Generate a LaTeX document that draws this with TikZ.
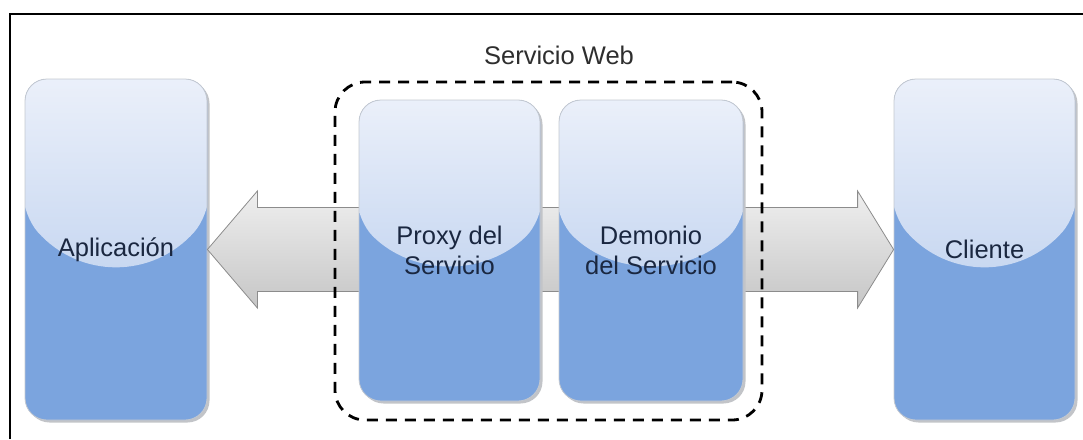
\documentclass[tikz,border=0pt]{standalone}
\usepackage{fontspec}
\setmainfont{Liberation Sans}
\usetikzlibrary{calc}

\definecolor{glosstop}{HTML}{EBF0FA}
\definecolor{glossbot}{HTML}{ADC5EA}
\definecolor{boxbody}{HTML}{7BA4DE}
\definecolor{boxedge}{HTML}{C3C8D0}
\definecolor{boxshadow}{HTML}{C2C4C8}
\definecolor{ink}{HTML}{1A2740}
\definecolor{titleink}{HTML}{2E2E2E}
\definecolor{arrowtop}{HTML}{EFEFEF}
\definecolor{arrowbot}{HTML}{C6C6C6}
\definecolor{arrowedge}{HTML}{8C8C8C}

\begin{document}
\begin{tikzpicture}[x=1pt,y=-1pt,
  labelfont/.style={font=\fontsize{25.5}{30}\selectfont},
  glossbox/.style={rectangle, rounded corners=22pt, inner sep=0pt,
    draw=boxedge, line width=0.8pt, fill=boxbody, text=ink, align=center, labelfont,
    preaction={fill=boxshadow, draw=none, transform canvas={xshift=2.5pt,yshift=-2.5pt}},
    path picture={
      \fill[top color=glosstop, bottom color=glossbot]
        let \p1=(path picture bounding box.north west),
            \p2=(path picture bounding box.south east) in
        ({\x1-2pt},{\y1+2pt}) -- ({\x2+2pt},{\y1+2pt}) -- ({\x2+2pt},{\y1-0.4*(\y1-\y2)})
        .. controls ({\x2-0.3*(\x2-\x1)},{\y1-0.587*(\y1-\y2)})
               and ({\x1+0.3*(\x2-\x1)},{\y1-0.587*(\y1-\y2)})
        .. ({\x1-2pt},{\y1-0.4*(\y1-\y2)}) -- cycle;
    }},
  bigarrow/.style={top color=arrowtop, bottom color=arrowbot, draw=arrowedge, line width=0.8pt, line join=miter},
  groupline/.style={draw=black, line width=2.8pt, dash pattern=on 11pt off 8pt, rounded corners=30pt},
  frameline/.style={draw=black, line width=1.6pt}
]
\useasboundingbox (0,0) rectangle (1083,439);

% outer frame
\draw[frameline] (10,439) -- (10,14) -- (1083,14);

% end points of the exchange
\node[glossbox, minimum width=182pt, minimum height=341pt] (app) at (116,249.5) {Aplicación};
\node[glossbox, minimum width=181pt, minimum height=341pt] (cli) at (984.5,249.5) {Cliente};

% double arrow between the application and the client
\draw[bigarrow] (app.east) -- ++(50,-58.5) -- ++(0,16.5)
  -- ($(cli.west)+(-36,-42)$) -- ++(0,-16.5) -- (cli.west)
  -- ++(-36,58.5) -- ++(0,-16.5) -- ($(app.east)+(50,42)$) -- ++(0,16.5) -- cycle;

% web service components
\node[glossbox, minimum width=181pt, minimum height=301pt] (proxy) at (449.5,250.5) {Proxy del\\Servicio};
\node[glossbox, minimum width=184pt, minimum height=301pt] (demon) at (651,250.5) {Demonio\\del Servicio};

% web service boundary
\node[groupline, rectangle, minimum width=427pt, minimum height=338pt] (web) at (548.5,251) {};
\node[labelfont, text=titleink, inner sep=0pt] (webtitle) at (559,55) {Servicio Web};
\end{tikzpicture}
\end{document}
